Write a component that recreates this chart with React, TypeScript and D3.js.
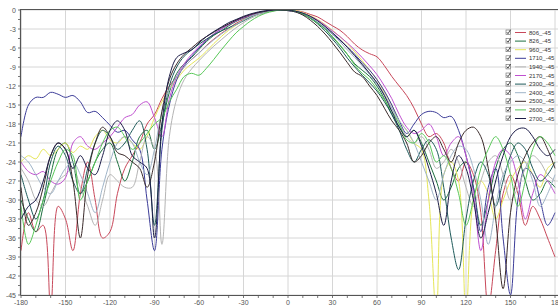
import React from "react";
import * as d3 from "d3";

const angles: number[] = d3.range(-180, 181, 5);

const seriesNames = ["806_-45", "826_-45", "960_-45", "1710_-45", "1940_-45", "2170_-45", "2300_-45", "2400_-45", "2500_-45", "2600_-45", "2700_-45"];
const seriesColors = ["#c8485a", "#1e7040", "#e6e658", "#3c3c98", "#b4b4b4", "#c050d0", "#1e5a5a", "#9fb4c8", "#3a2a2a", "#58c858", "#1c1c48"];

const s806 = [-38, -32, -35, -34, -47, -31, -33, -38, -29, -24, -30, -36, -35, -29, -25, -23, -21, -18, -16.5, -14, -12, -10.5, -9, -7.8, -6.8, -5.6, -4.6, -3.7, -2.9, -2.1, -1.5, -1, -0.6, -0.3, -0.1, 0, 0, -0.1, -0.3, -0.7, -1.1, -1.8, -2.5, -3.2, -4.2, -5.4, -6.3, -6.9, -7.4, -8.8, -10.5, -12, -13.5, -15.5, -18, -20, -19.5, -21, -25, -27, -24, -26, -32, -47, -38, -29, -26, -29, -34, -31, -33, -36, -39];
const s826 = [-30, -33, -35, -31, -26, -22, -21, -24, -29, -27, -24, -22, -21, -24, -27, -24, -20, -19, -22, -18, -13, -10, -8.5, -7.5, -6.2, -5, -4, -3.3, -2.5, -1.8, -1.3, -0.9, -0.5, -0.2, -0.1, 0, 0, -0.2, -0.6, -1.2, -2, -3, -4.3, -5.6, -7, -8.5, -9.5, -10.5, -12, -14, -16.5, -18.5, -20, -19, -21, -24, -27, -30, -28, -25, -24, -28, -34, -30, -25, -22, -21, -23, -27, -30, -29, -27, -28];
const s960 = [-24, -23, -23.5, -22, -23, -22, -21, -22.5, -21.5, -22, -20, -19, -20.5, -21, -20, -21, -22, -20, -17, -14.5, -12.5, -11, -9.5, -8.5, -7.6, -6.5, -5.3, -4.2, -3.2, -2.4, -1.6, -1, -0.6, -0.3, -0.1, 0, 0, -0.1, -0.4, -0.9, -1.5, -2.3, -3.2, -4.2, -5.3, -6.6, -8, -9.5, -11, -13, -15, -17.5, -19, -21, -22, -30, -48, -26, -24, -27, -48, -30, -27, -29, -33, -30, -27, -25, -24, -26, -28, -25, -24];
const s1710 = [-20, -15, -13.8, -13.8, -13, -13.3, -13.8, -13.5, -14.5, -16.2, -16, -17, -18.2, -19.3, -19, -20.5, -22, -30, -38, -22, -15, -11, -8.8, -7.3, -6, -4.8, -3.8, -3, -2.3, -1.7, -1.2, -0.8, -0.4, -0.2, 0, 0, -0.1, -0.3, -0.7, -1.3, -2, -2.9, -3.8, -4.8, -5.8, -7, -8.3, -9.5, -11, -12.8, -15, -17.5, -19.5, -18, -16.5, -16, -16.2, -17, -16.8, -19, -23, -28, -35, -28, -25, -36, -45, -30, -25, -26, -30, -34, -32];
const s1940 = [-25, -27, -30, -31, -29, -27, -26, -25, -28, -31, -34, -30, -26, -27, -28, -28, -24, -20, -22, -37, -20, -14, -11, -9.3, -8, -6.8, -5.7, -4.7, -3.7, -2.8, -2, -1.3, -0.8, -0.4, -0.1, 0, 0, -0.2, -0.5, -1, -1.7, -2.6, -3.6, -4.6, -5.8, -7.2, -8.5, -10, -11.5, -13.3, -15.5, -18, -20, -21, -20, -22, -25, -24, -22, -24, -28, -31, -27, -24, -23, -26, -30, -28, -25, -23, -24, -26, -27];
const s2170 = [-24, -25.5, -26, -25.5, -27, -27.5, -26.5, -21, -20, -21.5, -22, -21, -20, -18.5, -17, -16.5, -15, -14.5, -17, -20, -14, -10.5, -8.5, -7, -5.8, -4.7, -3.8, -3, -2.3, -1.7, -1.2, -0.8, -0.5, -0.2, -0.1, 0, 0, -0.2, -0.5, -1, -1.6, -2.4, -3.3, -4.2, -5.2, -6.3, -7.5, -8.8, -10.2, -12, -14, -16.5, -18.5, -19.5, -19, -18, -20, -23, -21, -20, -23, -29, -38, -30, -24, -22, -23, -27, -33, -29, -26, -27, -29];
const s2300 = [-26, -30, -33, -30, -24, -21.5, -23, -27, -29, -25, -21, -19, -20, -22, -21, -19, -17.5, -22, -34, -19, -12, -9, -7.3, -6.3, -5.4, -4.6, -3.9, -3.3, -2.8, -2.3, -1.7, -1.1, -0.6, -0.3, -0.1, 0, 0, -0.2, -0.6, -1.3, -2.2, -3.3, -4.6, -6, -7.6, -9, -10.3, -11.5, -12.8, -14.5, -16.5, -19, -22, -24, -22, -20.5, -22, -28, -36, -41, -33, -27, -24, -26, -31, -27, -23, -21, -22, -25, -27, -26, -24];
const s2400 = [-23, -24, -26, -28, -29, -27, -25, -24, -26, -29, -32, -28, -24, -21, -20, -21, -24, -26, -22, -16, -12.5, -10.5, -9, -7.8, -6.8, -5.7, -4.7, -3.8, -3, -2.3, -1.6, -1, -0.6, -0.3, -0.1, 0, 0, -0.2, -0.5, -1.1, -1.9, -2.8, -3.8, -5, -6.3, -7.5, -8.8, -10.2, -11.8, -13.5, -15.5, -17.5, -19, -21, -24, -27, -30, -26, -23, -21.5, -22, -25, -30, -37, -31, -26, -24, -23, -24, -27, -31, -29, -26];
const s2500 = [-28, -34, -32, -28, -23, -21, -22, -27, -36, -26, -21, -18.5, -20, -22.5, -23, -24, -25, -28, -24, -16, -11, -8.5, -7, -6, -5, -4.2, -3.5, -2.8, -2.2, -1.6, -1.1, -0.7, -0.4, -0.2, 0, 0, -0.1, -0.3, -0.8, -1.6, -2.6, -3.8, -5.2, -6.7, -8.3, -9.8, -10.5, -12, -13.5, -15.5, -17.5, -19, -21, -24, -23, -21, -20, -22, -24, -21, -19, -18.5, -20, -25, -33, -44, -32, -26, -23, -21, -20, -22, -25];
const s2600 = [-31, -37, -34, -30, -27, -24, -22, -23, -30, -27, -24, -21, -19, -18.5, -20, -22, -21, -19.5, -18, -17, -14.5, -12.5, -10.5, -10, -10.3, -9.2, -7.8, -6.3, -4.9, -3.6, -2.6, -1.7, -1, -0.5, -0.2, 0, 0, -0.2, -0.6, -1.3, -2.1, -3, -4.2, -5.5, -7, -8.7, -10, -11, -12.5, -14.2, -16, -18, -20.5, -21, -19.5, -21, -24, -23, -25, -29, -34, -30, -25, -22, -20, -22, -26, -31, -27, -22, -20, -21, -23];
const s2700 = [-33, -31, -30, -27, -23, -21, -22, -25, -23, -25, -26, -23, -19, -17.5, -19, -23, -24, -25, -36, -18, -10.5, -7.5, -6.8, -6.3, -5.2, -4.2, -3.4, -2.7, -2, -1.5, -1, -0.6, -0.3, -0.1, 0, 0, 0, -0.2, -0.5, -1, -1.7, -2.6, -3.6, -4.7, -5.9, -7.2, -8.6, -10, -11.5, -13.5, -16, -18.5, -20, -19, -21.5, -25, -29, -34, -27, -23, -25, -30, -36, -32, -27, -23, -20, -18.8, -18.7, -20, -22, -23, -22];

const seriesValues = [s806, s826, s960, s1710, s1940, s2170, s2300, s2400, s2500, s2600, s2700];

const xTicks: number[] = d3.range(-180, 181, 30);
const yTicks: number[] = d3.range(0, -46, -3);

const W = 558;
const H = 307;
const left = 21;
const right = 555;
const top = 10;
const bottom = 295;

export default function App() {
  const x = d3.scaleLinear().domain([-180, 180]).range([left, right]);
  const y = d3.scaleLinear().domain([0, -45]).range([top, bottom]);
  const line = d3
    .line<number>()
    .x((_, i) => x(angles[i]))
    .y((d) => y(d))
    .curve(d3.curveCatmullRom.alpha(0.5));

  const minorX = d3.range(-180, 181, 10);
  const minorY = d3.range(0, -45.1, -1.5);

  return (
    <svg width={W} height={H} style={{ position: "absolute", left: 0, top: 0, background: "#fff" }}>
      <defs>
        <clipPath id="plot">
          <rect x={left} y={top} width={W - left} height={bottom - top} />
        </clipPath>
      </defs>
      <rect x={0} y={0} width={W} height={H} fill="#fff" />
      {xTicks.map((t) => (
        <line key={"gx" + t} x1={x(t)} x2={x(t)} y1={top} y2={bottom} stroke="#d6d6d6" strokeWidth={1} />
      ))}
      {yTicks.map((t) => (
        <line key={"gy" + t} x1={left} x2={W} y1={y(t)} y2={y(t)} stroke="#d6d6d6" strokeWidth={1} />
      ))}
      <g clipPath="url(#plot)" fill="none">
        {seriesValues.map((vals, i) => (
          <path key={seriesNames[i]} d={line(vals) || ""} stroke={seriesColors[i]} strokeWidth={1} />
        ))}
      </g>
      <line x1={left} x2={W} y1={top - 0.5} y2={top - 0.5} stroke="#555" strokeWidth={1.2} />
      <line x1={left - 0.5} x2={left - 0.5} y1={top - 1} y2={bottom + 0.5} stroke="#555" strokeWidth={1.2} />
      <line x1={left} x2={W} y1={bottom + 0.5} y2={bottom + 0.5} stroke="#555" strokeWidth={1.2} />
      {minorX.map((t) => (
        <line key={"tx" + t} x1={x(t)} x2={x(t)} y1={bottom} y2={bottom + 3} stroke="#555" strokeWidth={0.8} />
      ))}
      {minorY.map((t) => (
        <line key={"ty" + t} x1={left - 3} x2={left} y1={y(t)} y2={y(t)} stroke="#555" strokeWidth={0.8} />
      ))}
      <g fontFamily="Liberation Sans, Arial, sans-serif" fontSize={7} fill="#555">
        {yTicks.map((t) => (
          <text key={"ly" + t} x={16} y={y(t) + 2.5} textAnchor="end">
            {t}
          </text>
        ))}
        {xTicks.map((t) => (
          <text key={"lx" + t} x={x(t)} y={bottom + 10} textAnchor="middle">
            {t === 180 ? "18" : t}
          </text>
        ))}
      </g>
      <g fontFamily="Liberation Sans, Arial, sans-serif" fontSize={6} fill="#333">
        {seriesNames.map((n, i) => {
          const yy = 32.5 + i * 8.6;
          return (
            <g key={"lg" + n}>
              <rect x={506} y={yy - 2.5} width={4.5} height={4.5} fill="#fff" stroke="#666" strokeWidth={0.6} />
              <path d={`M ${506.8} ${yy - 0.3} L ${508} ${yy + 1.2} L ${510.5} ${yy - 2.8}`} fill="none" stroke="#222" strokeWidth={0.8} />
              <line x1={515} x2={526} y1={yy} y2={yy} stroke={seriesColors[i]} strokeWidth={1} />
              <text x={529} y={yy + 2}>
                {n}
              </text>
            </g>
          );
        })}
      </g>
    </svg>
  );
}
